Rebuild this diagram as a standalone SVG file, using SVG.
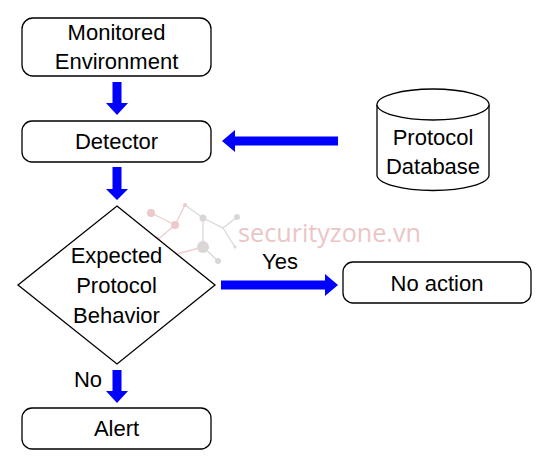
<svg xmlns="http://www.w3.org/2000/svg" width="548" height="466" viewBox="0 0 548 466">
<style>
.box{fill:#fff;stroke:#000;stroke-width:1.3}
.t{font-family:"Liberation Sans",Arial,sans-serif;font-size:22px;fill:#000;text-anchor:middle}
.arr{fill:#0000ff}
.wm{font-family:"Open Sans","Liberation Sans",sans-serif;font-size:25px;fill:#e8c0c0}
.wl{stroke-width:1.3;fill:none}
</style>
<rect width="548" height="466" fill="#fff"/>
<g id="watermark" opacity="0.9">
<g class="wl" stroke="#ecc8c8">
<path d="M151 213L175 225L185 205M175 225L155 242M133 233L155 242L173 255L203 247"/>
</g>
<g class="wl" stroke="#d8d4d4">
<path d="M185 205L203 218L203 247L218 261M203 218L223 228L237 217M223 228L235 247"/>
</g>
<g fill="#ecc4c4">
<circle cx="151" cy="213" r="4"/><circle cx="133" cy="233" r="3"/><circle cx="175" cy="225" r="4"/><circle cx="185" cy="205" r="2"/><circle cx="155" cy="242" r="6"/><circle cx="173" cy="255" r="4"/>
</g>
<g fill="#d6d2d2">
<circle cx="203" cy="218" r="3.5"/><circle cx="237" cy="217" r="3"/><circle cx="203" cy="247" r="6"/><circle cx="218" cy="261" r="3"/><circle cx="235" cy="247" r="1.5"/>
</g>
<text class="wm" x="238" y="242" textLength="183" lengthAdjust="spacingAndGlyphs">securityzone.vn</text>
</g>
<g id="connectors">
<polygon class="arr" points="112.5,82 121.5,82 121.5,103 128,103 117,115 106,103 112.5,103"/>
<polygon class="arr" points="112.5,167 121.5,167 121.5,189 128,189 117,200 106,189 112.5,189"/>
<polygon class="arr" points="112.5,370 121.5,370 121.5,391 128,391 117,403 106,391 112.5,391"/>
<polygon class="arr" points="338,136.5 338,145.5 235,145.5 235,152 222,141 235,130 235,136.5"/>
<polygon class="arr" points="221,280.5 325,280.5 325,274 338,285 325,296 325,289.5 221,289.5"/>
<text class="t" x="280" y="269">Yes</text>
<text class="t" x="88" y="387">No</text>
</g>
<g id="monitored">
<rect class="box" x="22" y="18" width="189" height="58" rx="11"/>
<text class="t" x="116.5" y="40">Monitored</text>
<text class="t" x="116.5" y="69">Environment</text>
</g>
<g id="detector">
<rect class="box" x="22" y="121" width="189" height="41" rx="10"/>
<text class="t" x="116.5" y="149">Detector</text>
</g>
<g id="database">
<path class="box" d="M377 104.5A56 15.5 0 0 1 489 104.5L489 175A56 15.5 0 0 1 377 175Z"/>
<path class="box" d="M377 104.5A56 15.5 0 0 0 489 104.5" fill="none"/>
<text class="t" x="433" y="145">Protocol</text>
<text class="t" x="433" y="174">Database</text>
</g>
<g id="decision">
<polygon class="box" points="117,206 215,285 117,364 18,285"/>
<text class="t" x="116.5" y="263">Expected</text>
<text class="t" x="116.5" y="293">Protocol</text>
<text class="t" x="116.5" y="323">Behavior</text>
</g>
<g id="noaction">
<rect class="box" x="343" y="262" width="188" height="41" rx="10"/>
<text class="t" x="437" y="291">No action</text>
</g>
<g id="alert">
<rect class="box" x="22" y="408" width="189" height="41" rx="10"/>
<text class="t" x="116.5" y="436">Alert</text>
</g>
</svg>
